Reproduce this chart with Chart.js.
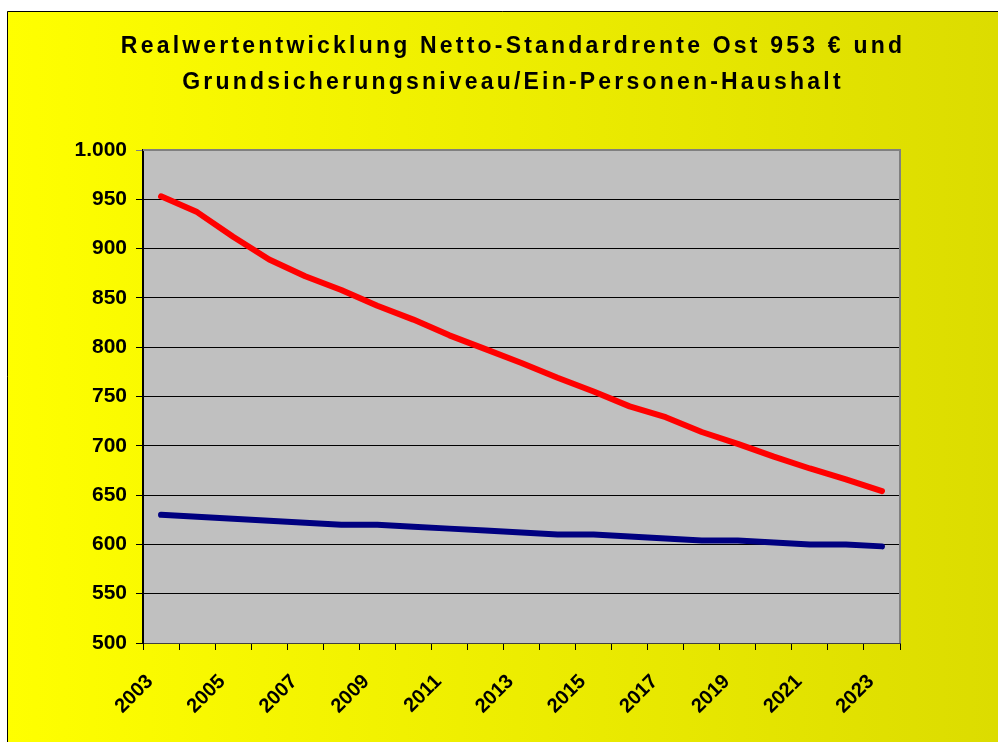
<!DOCTYPE html>
<html>
<head>
<meta charset="utf-8">
<script src="https://cdn.jsdelivr.net/npm/chart.js@4/dist/chart.umd.min.js"></script>
<style>
  html, body { margin: 0; padding: 0; background: #fff; }
  #wrap { width: 998px; height: 742px; }
</style>
</head>
<body>
<div id="wrap"><canvas id="chart"></canvas></div>
<script>
const FONT = "'Liberation Sans', Arial, sans-serif";

const years = ["2003", "2004", "2005", "2006", "2007", "2008", "2009", "2010", "2011", "2012", "2013",
  "2014", "2015", "2016", "2017", "2018", "2019", "2020", "2021", "2022", "2023"];
const rente = [953, 937, 912, 889, 872, 858, 842, 828, 812, 798, 784, 769, 755, 740, 729, 714, 702, 689, 677, 666, 654];
const grundsicherung = [630, 628, 626, 624, 622, 620, 620, 618, 616, 614, 612, 610, 610, 608, 606, 604, 604, 602, 600, 600, 598];
const titleLines = ["Realwertentwicklung Netto-Standardrente Ost 953 € und", "Grundsicherungsniveau/Ein-Personen-Haushalt"];

// white margin, yellow gradient frame, grey plot area, spaced-out title
const backdrop = {
  id: "backdrop",
  beforeDraw(chart) {
    const { ctx, width, height, chartArea: a } = chart;
    ctx.save();
    ctx.fillStyle = "#ffffff";
    ctx.fillRect(0, 0, width, height);
    const g = ctx.createLinearGradient(7, 0, width, 0);
    g.addColorStop(0, "#ffff00");
    g.addColorStop(1, "#dcdc00");
    ctx.fillStyle = g;
    ctx.fillRect(7, 11, width - 7, height - 11);
    ctx.strokeStyle = "#000";
    ctx.lineWidth = 1;
    ctx.beginPath();
    ctx.moveTo(7.5, height);
    ctx.lineTo(7.5, 11.5);
    ctx.lineTo(width, 11.5);
    ctx.stroke();
    ctx.fillStyle = "#c0c0c0";
    ctx.fillRect(a.left, a.top, a.right - a.left, a.bottom - a.top);

    ctx.fillStyle = "#000";
    ctx.font = "bold 23px " + FONT;
    ctx.letterSpacing = "3.2px";
    ctx.textAlign = "center";
    ctx.textBaseline = "alphabetic";
    titleLines.forEach((t, i) => ctx.fillText(t, 513, 53 + i * 36));
    ctx.restore();
  },
  afterDraw(chart) {
    const { ctx, chartArea: a } = chart;
    ctx.save();
    ctx.strokeStyle = "#808080";
    ctx.lineWidth = 2;
    ctx.beginPath();
    ctx.moveTo(a.left, a.top);
    ctx.lineTo(a.right, a.top);
    ctx.lineTo(a.right, a.bottom);
    ctx.stroke();
    ctx.restore();
  }
};

function deNum(v) {
  return v >= 1000 ? Math.floor(v / 1000) + "." + String(v % 1000).padStart(3, "0") : String(v);
}

new Chart(document.getElementById("chart"), {
  type: "line",
  data: {
    labels: years,
    datasets: [
      { label: "Netto-Standardrente Ost", data: rente, borderColor: "#ff0000", borderWidth: 6, borderCapStyle: "round", borderJoinStyle: "round", pointRadius: 0, tension: 0 },
      { label: "Grundsicherungsniveau", data: grundsicherung, borderColor: "#000080", borderWidth: 6, borderCapStyle: "round", borderJoinStyle: "round", pointRadius: 0, tension: 0 }
    ]
  },
  options: {
    responsive: true,
    maintainAspectRatio: false,
    animation: false,
    layout: { padding: { left: 0, right: 98, top: 150, bottom: 0 } },
    plugins: {
      legend: { display: false },
      tooltip: { enabled: false },
      title: { display: false }
    },
    scales: {
      x: {
        offset: true,
        afterFit(s) { s.height = 99; },
        border: { display: true, color: "#404040", width: 1 },
        grid: { offset: true, drawOnChartArea: false, color: "#000", tickLength: 7 },
        ticks: {
          autoSkip: false,
          maxRotation: 45,
          minRotation: 45,
          color: "#000",
          padding: 20,
          labelOffset: -11,
          font: { family: FONT, size: 20, weight: "bold" },
          callback(v, i) { return i % 2 === 0 ? years[i] : ""; }
        }
      },
      y: {
        min: 500,
        max: 1000,
        afterFit(s) { s.width = 143; },
        border: { display: true, color: "#000", width: 2 },
        grid: {
          color: (c) => (c.tick && c.tick.value === 1000 ? "#808080" : "#000"),
          tickLength: 7,
          lineWidth: 1
        },
        ticks: {
          stepSize: 50,
          color: "#000",
          padding: 9,
          font: { family: FONT, size: 21, weight: "bold" },
          callback: (v) => deNum(v)
        }
      }
    }
  },
  plugins: [backdrop]
});
</script>
</body>
</html>
